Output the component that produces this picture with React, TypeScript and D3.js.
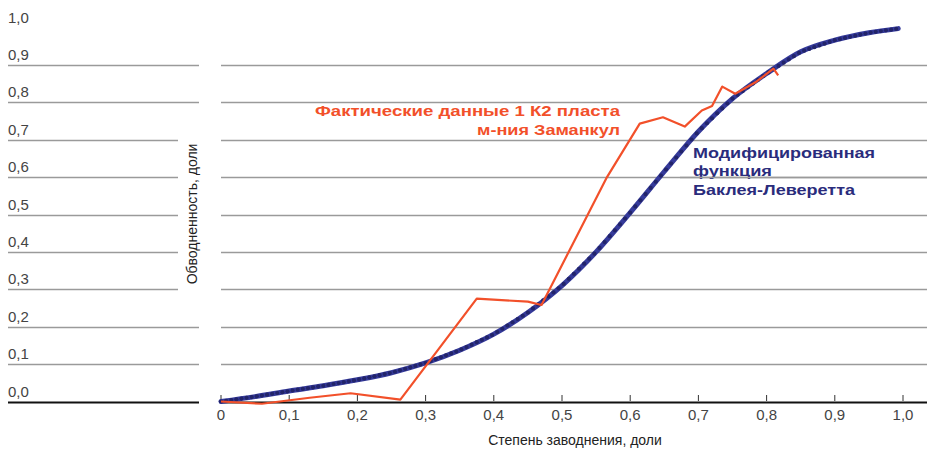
import React from "react";
import * as d3 from "d3";

const yTicks = [0, 0.1, 0.2, 0.3, 0.4, 0.5, 0.6, 0.7, 0.8, 0.9, 1.0];
const xTicks = [0, 0.1, 0.2, 0.3, 0.4, 0.5, 0.6, 0.7, 0.8, 0.9, 1.0];

const modelX = [0, 0.05, 0.1, 0.15, 0.2, 0.25, 0.3, 0.35, 0.4, 0.45, 0.5, 0.55, 0.6, 0.65, 0.7, 0.75, 0.8, 0.85, 0.9, 0.95, 0.993];
const modelY = [0, 0.013, 0.028, 0.042, 0.058, 0.077, 0.103, 0.137, 0.18, 0.238, 0.31, 0.4, 0.505, 0.615, 0.722, 0.81, 0.877, 0.935, 0.966, 0.986, 0.997];

const factX = [0, 0.06, 0.13, 0.19, 0.263, 0.375, 0.45, 0.47, 0.566, 0.614, 0.648, 0.68, 0.705, 0.72, 0.735, 0.754, 0.785, 0.81, 0.817];
const factY = [0, -0.006, 0.01, 0.022, 0.005, 0.275, 0.267, 0.258, 0.6, 0.743, 0.76, 0.735, 0.778, 0.79, 0.842, 0.823, 0.855, 0.89, 0.872];

const yLabels = ["0,0", "0,1", "0,2", "0,3", "0,4", "0,5", "0,6", "0,7", "0,8", "0,9", "1,0"];
const xLabels = ["0", "0,1", "0,2", "0,3", "0,4", "0,5", "0,6", "0,7", "0,8", "0,9", "1,0"];

const RED = "#f2502a";
const NAVY = "#2a2c7c";
const FONT = "'Liberation Sans', Arial, sans-serif";

export default function App() {
  const x = d3.scaleLinear().domain([0, 1]).range([221, 903]);
  const y = d3.scaleLinear().domain([0, 1]).range([401.5, 27.5]);

  const model = modelX.map((v, i) => [v, modelY[i]] as [number, number]);
  const fact = factX.map((v, i) => [v, factY[i]] as [number, number]);

  const modelLine = d3
    .line<[number, number]>()
    .x((d) => x(d[0]))
    .y((d) => y(d[1]))
    .curve(d3.curveMonotoneX);
  const factLine = d3
    .line<[number, number]>()
    .x((d) => x(d[0]))
    .y((d) => y(d[1]));

  const dense = d3.range(0, 0.994, 0.0075);
  const interp = (t: number) => {
    let i = 0;
    while (i < modelX.length - 2 && modelX[i + 1] < t) i++;
    const a = modelX[i], b = modelX[i + 1];
    const f = (t - a) / (b - a);
    return modelY[i] + f * (modelY[i + 1] - modelY[i]);
  };

  return (
    <svg
      width={927}
      height={455}
      style={{ position: "absolute", left: 0, top: 0, background: "#fff" }}
    >
      {yTicks.map((t, i) => {
        if (t === 1.0) return null;
        const yy = Math.round(y(t)) + 0.5;
        const leftEnd = t >= 0.3 && t <= 0.7 ? 178 : 199;
        const isAxis = t === 0;
        return (
          <g key={"g" + i}>
            <line x1={8} x2={leftEnd} y1={yy} y2={yy} stroke={isAxis ? "#111" : "#9a9a9a"} strokeWidth={isAxis ? 2 : 1.3} />
            <line x1={221} x2={927} y1={yy} y2={yy} stroke={isAxis ? "#111" : "#9a9a9a"} strokeWidth={isAxis ? 2 : 1.3} />
          </g>
        );
      })}
      {yTicks.map((t, i) => (
        <text key={"yl" + i} x={8} y={y(t) - 5} fontFamily={FONT} fontSize={15} fill="#444">
          {yLabels[i]}
        </text>
      ))}
      {xTicks.map((t, i) => (
        <g key={"xt" + i}>
          <line x1={x(t)} x2={x(t)} y1={395} y2={401} stroke="#333" strokeWidth={1} />
          <text x={x(t)} y={420} textAnchor="middle" fontFamily={FONT} fontSize={15} fill="#444">
            {xLabels[i]}
          </text>
        </g>
      ))}
      <text x={575} y={445} textAnchor="middle" fontFamily={FONT} fontSize={14} fill="#222">
        Степень заводнения, доли
      </text>
      <text
        transform="translate(197,214) rotate(-90)"
        textAnchor="middle"
        fontFamily={FONT}
        fontSize={14}
        fill="#222"
      >
        Обводненность, доли
      </text>

      <path d={modelLine(model) || ""} fill="none" stroke="#353a9a" strokeWidth={5} strokeLinecap="round" />
      {dense.map((t, i) => (
        <circle key={"b" + i} cx={x(t)} cy={y(interp(t))} r={2.1} fill="#22246a" />
      ))}

      <path d={factLine(fact) || ""} fill="none" stroke={RED} strokeWidth={2.2} strokeLinejoin="round" />

      <text x={620} y={116} textAnchor="end" fontFamily={FONT} fontWeight="bold" fontSize={15} fill={RED} textLength={305} lengthAdjust="spacingAndGlyphs">
        Фактические данные 1 К2 пласта
      </text>
      <text x={620} y={135} textAnchor="end" fontFamily={FONT} fontWeight="bold" fontSize={15} fill={RED} textLength={143} lengthAdjust="spacingAndGlyphs">
        м-ния Заманкул
      </text>
      <text x={693} y={158} fontFamily={FONT} fontWeight="bold" fontSize={15} fill={NAVY} textLength={182} lengthAdjust="spacingAndGlyphs">
        Модифицированная
      </text>
      <text x={693} y={176} fontFamily={FONT} fontWeight="bold" fontSize={15} fill={NAVY} textLength={79} lengthAdjust="spacingAndGlyphs">
        функция
      </text>
      <text x={693} y={195} fontFamily={FONT} fontWeight="bold" fontSize={15} fill={NAVY} textLength={162} lengthAdjust="spacingAndGlyphs">
        Баклея-Леверетта
      </text>
      <line x1={680} x2={927} y1={Math.round(y(0.6)) + 0.5} y2={Math.round(y(0.6)) + 0.5} stroke="#9a9a9a" strokeWidth={1.3} />
    </svg>
  );
}
